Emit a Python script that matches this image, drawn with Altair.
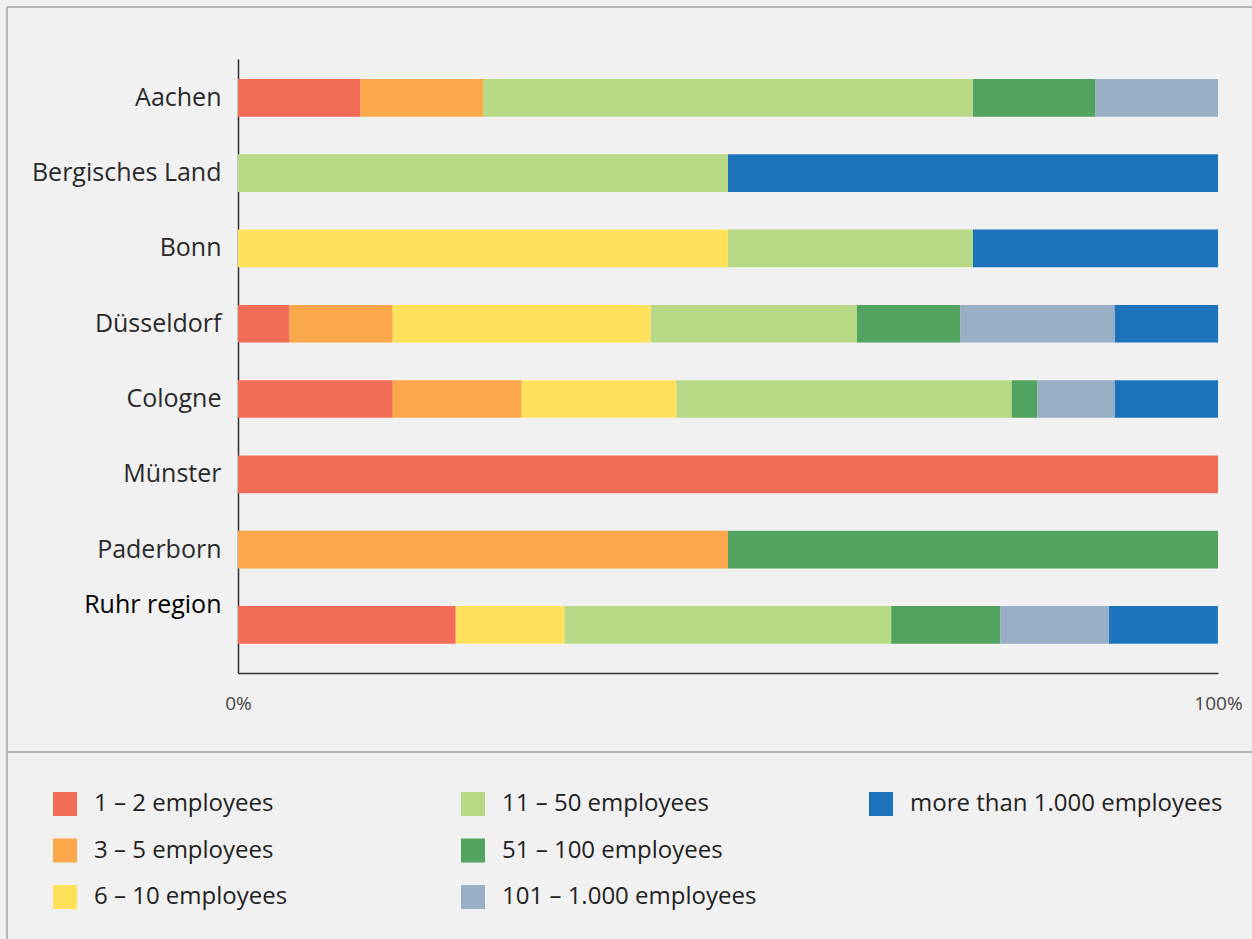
import altair as alt
import pandas as pd

regions = ["Aachen", "Bergisches Land", "Bonn", "Düsseldorf", "Cologne",
           "Münster", "Paderborn", "Ruhr region"]
sizes = ["1 – 2 employees", "3 – 5 employees", "6 – 10 employees",
         "11 – 50 employees", "51 – 100 employees", "101 – 1.000 employees",
         "more than 1.000 employees"]
colors = ["#f36c57", "#fba84b", "#ffe15c", "#b8d985", "#52a35f", "#98afc6", "#1d73bb"]

# share (%) of each size class per region
s1 = [12.5, 0, 0, 5.26, 15.79, 100, 0, 22.22]
s2 = [12.5, 0, 0, 10.53, 13.16, 0, 50, 0]
s3 = [0, 0, 50, 26.32, 15.79, 0, 0, 11.11]
s4 = [50, 50, 25, 21.05, 34.21, 0, 0, 33.33]
s5 = [12.5, 0, 0, 10.53, 2.63, 0, 50, 11.11]
s6 = [12.5, 0, 0, 15.79, 7.89, 0, 0, 11.11]
s7 = [0, 50, 25, 10.53, 10.53, 0, 0, 11.11]
series = [s1, s2, s3, s4, s5, s6, s7]

rows = []
for k, (size, vals) in enumerate(zip(sizes, series)):
    for r, v in zip(regions, vals):
        if v > 0:
            rows.append({"region": r, "size": size, "share": v, "ord": k})
df = pd.DataFrame(rows)

# invisible filler entry so the 3-column legend fills column by column
blank = " "
leg_domain = sizes + [blank]
leg_range = colors + ["rgba(0,0,0,0)"]

FONT = "Open Sans"

bars = alt.Chart(df).mark_bar().encode(
    y=alt.Y("region:N", sort=regions,
            scale=alt.Scale(paddingInner=0.5, paddingOuter=0.327, align=0.406),
            axis=alt.Axis(title=None, ticks=False, tickSize=0, domainColor="#333333",
                          domainWidth=1.5, labelFontSize=25, labelFont=FONT,
                          labelPadding=17, labelLimit=300,
                          labelColor=alt.expr("datum.value == 'Ruhr region' ? '#000000' : '#2a2a2a'"),
                          labelOffset=alt.expr("datum.value == 'Ruhr region' ? -20 : 0"))),
    x=alt.X("share:Q", stack="zero",
            scale=alt.Scale(domain=[0, 100], nice=False, zero=True),
            axis=alt.Axis(title=None, values=[0, 100], grid=False, ticks=False, tickSize=0,
                          domainColor="#333333", domainWidth=1.5,
                          labelExpr="datum.value + '%'", labelFont=FONT,
                          labelFontSize=19, labelColor="#444444", labelPadding=21,
                          labelFlush=False, labelAlign="center")),
    color=alt.Color("size:N", scale=alt.Scale(domain=leg_domain, range=leg_range),
                    legend=alt.Legend(title=None, orient="none", legendX=-185, legendY=733,
                                      columns=3, gridAlign="all", symbolType="square",
                                      symbolSize=576, symbolStrokeWidth=0, symbolOpacity=1,
                                      labelFont=FONT, labelFontSize=24, labelColor="#222222",
                                      labelOffset=17, rowPadding=22.5, columnPadding=54,
                                      labelLimit=400, padding=0)),
    order=alt.Order("ord:Q"),
)

frame = pd.DataFrame({"k": [0]})
BORDER = "#b5b5b5"
top_line = alt.Chart(frame).mark_rule(color=BORDER, strokeWidth=2).encode(
    x=alt.value(-231), x2=alt.value(1014), y=alt.value(-52))
left_line = alt.Chart(frame).mark_rule(color=BORDER, strokeWidth=2).encode(
    x=alt.value(-231), y=alt.value(-52), y2=alt.value(880))
sep_line = alt.Chart(frame).mark_rule(color=BORDER, strokeWidth=2).encode(
    x=alt.value(-231), x2=alt.value(1014), y=alt.value(693))

chart = alt.layer(bars, top_line, left_line, sep_line).properties(
    width=980, height=614,
    autosize=alt.AutoSizeParams(type="none"),
    padding={"left": 238, "top": 59, "right": 34, "bottom": 266},
    background="#f1f1f1",
).configure_view(stroke=None)

chart.save("out.html", embed_options={"renderer": "svg", "actions": False})
